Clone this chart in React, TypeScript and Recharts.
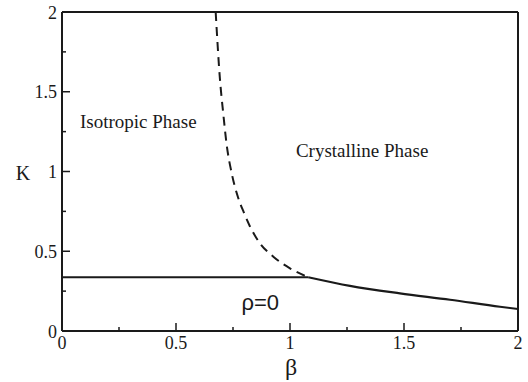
import { LineChart, Line, XAxis, YAxis, ReferenceDot } from "recharts";

// phase boundary lines (beta, K)
const flatBeta = [0, 1.08];
const flatK = [0.337, 0.337];

const dashedBeta = [0.674, 0.693, 0.707, 0.722, 0.744, 0.773, 0.797, 0.825, 0.868, 0.927, 1.0, 1.08];
const dashedK = [2.0, 1.574, 1.367, 1.17, 0.991, 0.834, 0.745, 0.654, 0.55, 0.466, 0.393, 0.337];

const solidBeta = [1.08, 1.263, 1.482, 1.702, 1.921, 2.0];
const solidK = [0.337, 0.283, 0.236, 0.196, 0.152, 0.138];

const majorTicks = [0, 0.5, 1, 1.5, 2];
const allTicks = [0, 0.25, 0.5, 0.75, 1, 1.25, 1.5, 1.75, 2];
const tickLabels = ["0", "0.5", "1", "1.5", "2"];

const toRows = (xs: number[], ys: number[]) => xs.map((b, i) => ({ b, k: ys[i] }));

const INK = "#1a1a1a";
const SERIF = "'Liberation Serif', 'Times New Roman', Times, serif";
const SANS = "'Liberation Sans', Arial, Helvetica, sans-serif";

function labelFor(v: number) {
  const i = majorTicks.indexOf(v);
  return i >= 0 ? tickLabels[i] : null;
}

function tickLen(v: number) {
  return labelFor(v) !== null ? 8 : 4;
}

// side: which border the tick sits on; ticks point into the plot
function makeTick(side: "bottom" | "top" | "left" | "right", showLabel: boolean) {
  return (props: any) => {
    const { x, y, payload } = props;
    const v = payload.value as number;
    const len = tickLen(v);
    const lbl = labelFor(v);
    let line;
    if (side === "bottom") line = <line x1={x} y1={y} x2={x} y2={y - len} stroke={INK} strokeWidth={1.5} />;
    else if (side === "top") line = <line x1={x} y1={y} x2={x} y2={y + len} stroke={INK} strokeWidth={1.5} />;
    else if (side === "left") line = <line x1={x} y1={y} x2={x + len} y2={y} stroke={INK} strokeWidth={1.5} />;
    else line = <line x1={x} y1={y} x2={x - len} y2={y} stroke={INK} strokeWidth={1.5} />;
    return (
      <g>
        {v !== 0 && v !== 2 && line}
        {showLabel && lbl !== null && side === "bottom" && (
          <text x={x} y={y + 18} textAnchor="middle" style={{ fontFamily: SERIF, fontSize: 18 }} fill={INK}>
            {lbl}
          </text>
        )}
        {showLabel && lbl !== null && side === "left" && (
          <text x={x - 5} y={y + 6.5} textAnchor="end" style={{ fontFamily: SERIF, fontSize: 18 }} fill={INK}>
            {lbl}
          </text>
        )}
      </g>
    );
  };
}

function textAt(value: string, family: string, size: number) {
  return (props: any) => (
    <text x={props.viewBox.x} y={props.viewBox.y} style={{ fontFamily: family, fontSize: size }} fill={INK}>
      {value}
    </text>
  );
}

const axisLine = { stroke: INK, strokeWidth: 2 };

export default function App() {
  return (
    <div style={{ width: 528, height: 382, background: "#fff" }}>
      <style>{"body{margin:0}"}</style>
      <LineChart width={528} height={382} margin={{ top: 11, right: 9, bottom: 0, left: 0 }}>
        <XAxis
          dataKey="b"
          type="number"
          domain={[0, 2]}
          ticks={allTicks}
          interval={0}
          height={51}
          tickSize={0}
          tickMargin={0}
          tickLine={false}
          axisLine={axisLine}
          tick={makeTick("bottom", true)}
          label={{
            content: (p: any) => (
              <text x={p.viewBox.x + 229} y={p.viewBox.y + 44} textAnchor="middle" style={{ fontFamily: SERIF, fontSize: 24 }} fill={INK}>
                β
              </text>
            ),
          }}
        />
        <XAxis
          xAxisId="top"
          orientation="top"
          type="number"
          dataKey="b"
          domain={[0, 2]}
          ticks={allTicks}
          interval={0}
          height={1}
          tickSize={0}
          tickMargin={0}
          tickLine={false}
          axisLine={axisLine}
          tick={makeTick("top", false)}
        />
        <YAxis
          type="number"
          domain={[0, 2]}
          ticks={allTicks}
          interval={0}
          width={62}
          tickSize={0}
          tickMargin={0}
          tickLine={false}
          axisLine={axisLine}
          tick={makeTick("left", true)}
          label={{
            content: (p: any) => (
              <text x={p.viewBox.x + 23} y={p.viewBox.y + p.viewBox.height / 2 + 8} textAnchor="middle" style={{ fontFamily: SERIF, fontSize: 20 }} fill={INK}>
                K
              </text>
            ),
          }}
        />
        <YAxis
          yAxisId="right"
          orientation="right"
          type="number"
          domain={[0, 2]}
          ticks={allTicks}
          interval={0}
          width={1}
          tickSize={0}
          tickMargin={0}
          tickLine={false}
          axisLine={axisLine}
          tick={makeTick("right", false)}
        />
        <Line data={toRows(flatBeta, flatK)} dataKey="k" type="linear" stroke={INK} strokeWidth={2.2} dot={false} isAnimationActive={false} />
        <Line data={toRows(dashedBeta, dashedK)} dataKey="k" type="monotone" stroke={INK} strokeWidth={2} strokeDasharray="9 6" dot={false} isAnimationActive={false} />
        <Line data={toRows(solidBeta, solidK)} dataKey="k" type="monotone" stroke={INK} strokeWidth={2.2} dot={false} isAnimationActive={false} />
        <ReferenceDot x={0.079} y={1.273} r={0} stroke="none" label={{ content: textAt("Isotropic Phase", SERIF, 19) }} />
        <ReferenceDot x={1.026} y={1.09} r={0} stroke="none" label={{ content: textAt("Crystalline Phase", SERIF, 19) }} />
        <ReferenceDot x={0.787} y={0.132} r={0} stroke="none" label={{ content: textAt("ρ=0", SANS, 22) }} />
      </LineChart>
    </div>
  );
}
